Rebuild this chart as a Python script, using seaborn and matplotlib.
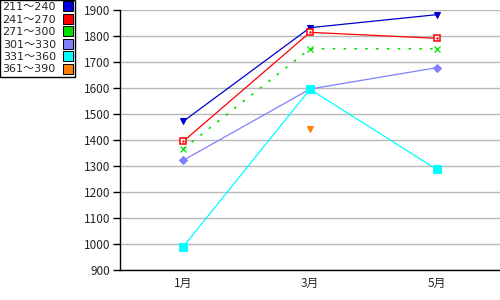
import matplotlib
matplotlib.use("Agg")
import matplotlib.pyplot as plt
from matplotlib.lines import Line2D
from matplotlib.font_manager import FontProperties
import seaborn as sns
import pandas as pd
import numpy as np

sns.set_style("white")
plt.rcParams['font.family'] = ['Noto Sans CJK JP', 'DejaVu Sans']

months = ["1月", "3月", "5月"]
series_names = ["211～240", "241～270", "271～300", "301～330", "331～360", "361～390"]
v_211_240 = [1472, 1832, 1882]
v_241_270 = [1395, 1814, 1791]
v_271_300 = [1366, 1751, 1751]
v_301_330 = [1322, 1596, 1678]
v_331_360 = [990, 1595, 1287]
v_361_390 = [np.nan, 1442, np.nan]
values = [v_211_240, v_241_270, v_271_300, v_301_330, v_331_360, v_361_390]

colors = ["#0000cc", "#ff0000", "#00e000", "#8080ff", "#00ffff", "#ff8000"]
legend_colors = ["#0000dd", "#ff0000", "#00e000", "#8080ff", "#00ffff", "#ff8000"]
markers = ["v", "s", "x", "D", "s", "v"]
msizes = [4, 5, 5, 4, 6, 4]
lstyles = ["-", "-", (0, (1.5, 5)), "-", "-", "-"]

fig = plt.figure(figsize=(5, 3), dpi=100)
ax = fig.add_axes([0.24, 0.1, 0.76, 0.8667])

x = np.arange(len(months))
for name, vals, c, m, ms, ls in zip(series_names, values, colors, markers, msizes, lstyles):
    df = pd.DataFrame({"x": x, "y": vals}).dropna()
    if name == "241～270":
        sns.lineplot(data=df, x="x", y="y", ax=ax, color=c, lw=0.9, linestyle=ls, zorder=3)
        ax.plot(df["x"], df["y"], linestyle="none", marker="s", ms=ms, mfc="white", mec=c, mew=1.1, zorder=4)
        ax.plot(df["x"], df["y"], linestyle="none", marker=".", ms=1.5, color=c, zorder=5)
    elif m == "x":
        sns.lineplot(data=df, x="x", y="y", ax=ax, color=c, lw=1.2, linestyle=ls, zorder=3)
        ax.plot(df["x"], df["y"], linestyle="none", marker="x", ms=ms, mec=c, mew=0.9, zorder=4)
    else:
        sns.lineplot(data=df, x="x", y="y", ax=ax, color=c, lw=0.9, linestyle=ls, zorder=3,
                     marker=m, markersize=ms, markeredgecolor=c, markerfacecolor=c)

ax.set_xlim(-0.5, 2.5)
ax.set_ylim(900, 1900)
ax.set_yticks(np.arange(900, 2000, 100))
ax.set_xticks(x)
ax.set_xticklabels(months)
ax.set_xticks([0.5, 1.5], minor=True)
ax.tick_params(axis="x", which="major", length=0, labelsize=8.5, pad=5)
ax.tick_params(axis="x", which="minor", length=6, direction="inout", width=1, color="black")
ax.tick_params(axis="y", length=5, width=1, color="black", labelsize=8.5, pad=2, left=True)
ax.set_xlabel("")
ax.set_ylabel("")
ax.grid(axis="y", color="#b8b8b8", lw=1)
ax.set_axisbelow(True)
for s in ["top", "right"]:
    ax.spines[s].set_visible(False)
for s in ["left", "bottom"]:
    ax.spines[s].set_color("black")
    ax.spines[s].set_linewidth(1)

handles = [Line2D([], [], linestyle="none", marker="s", ms=7, mfc=c, mec="black", mew=0.7)
           for c in legend_colors]
legfont = FontProperties(family=['DejaVu Sans', 'Noto Sans CJK JP'], size=8)
leg = fig.legend(handles, series_names, loc="upper left", bbox_to_anchor=(0.0, 1.0),
                 markerfirst=False, frameon=True, fancybox=False, edgecolor="black",
                 prop=legfont, handlelength=0.8, handletextpad=0.7, labelspacing=0.22,
                 borderpad=0.2, borderaxespad=0.0, framealpha=1)
leg.get_frame().set_linewidth(1)

fig.savefig("out.png", dpi=100)
